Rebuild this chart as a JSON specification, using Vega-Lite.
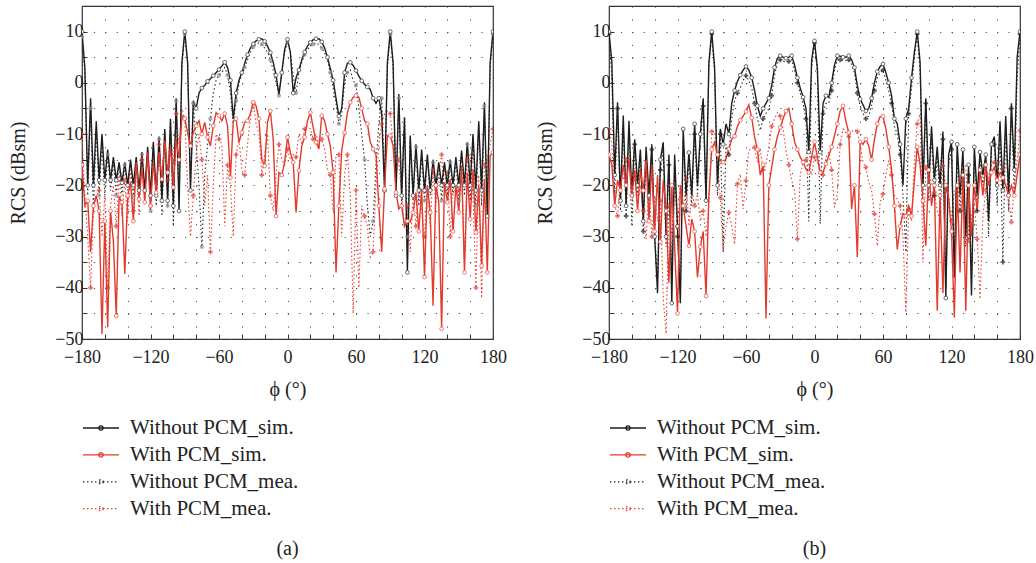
{
"$schema":"https://vega.github.io/schema/vega-lite/v6.json",
"padding":{"left":8,"top":5,"right":5,"bottom":2},
"background":"white",
"datasets":{
"a":[
{"x":-180,"ws":10,"wp":-16,"wsm":9,"wpm":-10},
{"x":-177.5,"ws":3,"wp":-24,"wsm":2,"wpm":-22},
{"x":-175,"ws":-20,"wp":-23,"wsm":-22,"wpm":-30},
{"x":-172.5,"ws":-3,"wp":-33,"wsm":-5,"wpm":-40},
{"x":-170,"ws":-20,"wp":-24,"wsm":-25,"wpm":-25},
{"x":-167.5,"ws":-7.5,"wp":-22,"wsm":-9,"wpm":-22},
{"x":-165,"ws":-19,"wp":-25,"wsm":-22,"wpm":-21},
{"x":-162.5,"ws":-10,"wp":-49,"wsm":-12,"wpm":-30},
{"x":-160,"ws":-19,"wp":-27,"wsm":-22,"wpm":-22},
{"x":-157.5,"ws":-13,"wp":-47.7,"wsm":-14,"wpm":-40},
{"x":-155,"ws":-19,"wp":-25,"wsm":-21,"wpm":-24},
{"x":-152.5,"ws":-14.5,"wp":-31,"wsm":-15.5,"wpm":-20},
{"x":-150,"ws":-19,"wp":-45.5,"wsm":-22,"wpm":-28},
{"x":-147.5,"ws":-15.5,"wp":-22.3,"wsm":-16,"wpm":-18},
{"x":-145,"ws":-19.5,"wp":-23.3,"wsm":-22,"wpm":-26},
{"x":-142.5,"ws":-15.5,"wp":-37.3,"wsm":-16,"wpm":-19},
{"x":-140,"ws":-20,"wp":-22,"wsm":-21,"wpm":-27},
{"x":-137.5,"ws":-15,"wp":-19.4,"wsm":-15.5,"wpm":-17},
{"x":-135,"ws":-20,"wp":-27,"wsm":-22,"wpm":-25},
{"x":-132.5,"ws":-14.5,"wp":-15.5,"wsm":-15,"wpm":-16},
{"x":-130,"ws":-21,"wp":-22.7,"wsm":-23,"wpm":-26},
{"x":-127.5,"ws":-13.5,"wp":-16.5,"wsm":-14,"wpm":-15},
{"x":-125,"ws":-21,"wp":-23.3,"wsm":-22,"wpm":-22},
{"x":-122.5,"ws":-12.5,"wp":-13.6,"wsm":-13,"wpm":-14},
{"x":-120,"ws":-22,"wp":-24,"wsm":-25,"wpm":-24},
{"x":-117.5,"ws":-11.5,"wp":-15.5,"wsm":-12,"wpm":-13},
{"x":-115,"ws":-22,"wp":-21.4,"wsm":-24,"wpm":-22},
{"x":-112.5,"ws":-10.5,"wp":-13.5,"wsm":-11,"wpm":-12},
{"x":-110,"ws":-23,"wp":-18.8,"wsm":-26,"wpm":-20},
{"x":-107.5,"ws":-9,"wp":-11.3,"wsm":-9.5,"wpm":-10},
{"x":-105,"ws":-23,"wp":-17.5,"wsm":-24,"wpm":-19},
{"x":-102.5,"ws":-7,"wp":-12.5,"wsm":-7.5,"wpm":-9},
{"x":-100,"ws":-24,"wp":-20.4,"wsm":-28,"wpm":-16},
{"x":-97.5,"ws":-3,"wp":-11,"wsm":-3.5,"wpm":-6},
{"x":-95,"ws":-25,"wp":-15,"wsm":-22,"wpm":-12},
{"x":-92.5,"ws":4,"wp":-6.4,"wsm":3,"wpm":-5},
{"x":-90,"ws":10,"wp":-7,"wsm":9.5,"wpm":-7},
{"x":-87.5,"ws":4,"wp":-9.7,"wsm":4,"wpm":-20},
{"x":-85,"ws":-21,"wp":-12.3,"wsm":-20,"wpm":-30},
{"x":-82.5,"ws":-3.5,"wp":-9.7,"wsm":-4,"wpm":-22},
{"x":-80,"ws":-5,"wp":-8.4,"wsm":-12,"wpm":-14},
{"x":-77.5,"ws":-2,"wp":-7.4,"wsm":-20,"wpm":-10},
{"x":-75,"ws":-1,"wp":-10,"wsm":-32,"wpm":-15},
{"x":-72.5,"ws":-0.5,"wp":-7.7,"wsm":-18,"wpm":-24},
{"x":-70,"ws":0.3,"wp":-10.6,"wsm":-12,"wpm":-18},
{"x":-67.5,"ws":0.8,"wp":-12.3,"wsm":-7,"wpm":-33},
{"x":-65,"ws":1.4,"wp":-8.4,"wsm":-2,"wpm":-20},
{"x":-62.5,"ws":2,"wp":-5.8,"wsm":0.5,"wpm":-10},
{"x":-60,"ws":2.6,"wp":-6.4,"wsm":1.5,"wpm":-11},
{"x":-57.5,"ws":3.3,"wp":-7.4,"wsm":2,"wpm":-12},
{"x":-55,"ws":4,"wp":-6,"wsm":3,"wpm":-28},
{"x":-52.5,"ws":3,"wp":-8.4,"wsm":1.5,"wpm":-16},
{"x":-50,"ws":0.5,"wp":-18.5,"wsm":-2,"wpm":-20},
{"x":-47.5,"ws":-7,"wp":-7.4,"wsm":-8,"wpm":-30},
{"x":-45,"ws":-2,"wp":-7,"wsm":-3.5,"wpm":-14},
{"x":-42.5,"ws":0.5,"wp":-11.6,"wsm":0,"wpm":-11},
{"x":-40,"ws":2,"wp":-9.7,"wsm":1.5,"wpm":-17},
{"x":-37.5,"ws":3.8,"wp":-7.7,"wsm":3,"wpm":-18},
{"x":-35,"ws":5.5,"wp":-7.4,"wsm":4.5,"wpm":-12},
{"x":-32.5,"ws":6.8,"wp":-6,"wsm":6,"wpm":-7},
{"x":-30,"ws":7.6,"wp":-3.8,"wsm":7,"wpm":-4},
{"x":-27.5,"ws":8.2,"wp":-4.5,"wsm":7.5,"wpm":-8},
{"x":-25,"ws":8.5,"wp":-7,"wsm":7.8,"wpm":-10},
{"x":-22.5,"ws":8.6,"wp":-15,"wsm":7.5,"wpm":-18},
{"x":-20,"ws":8.1,"wp":-16.2,"wsm":6.8,"wpm":-14},
{"x":-17.5,"ws":7.2,"wp":-7.7,"wsm":6,"wpm":-10},
{"x":-15,"ws":5.9,"wp":-5.5,"wsm":4.5,"wpm":-22},
{"x":-12.5,"ws":4,"wp":-11,"wsm":2.5,"wpm":-25},
{"x":-10,"ws":1.5,"wp":-26,"wsm":0,"wpm":-18},
{"x":-7.5,"ws":-2.3,"wp":-17.5,"wsm":-2.5,"wpm":-12},
{"x":-5,"ws":2,"wp":-18,"wsm":2,"wpm":-15},
{"x":-2.5,"ws":6.5,"wp":-15.5,"wsm":6,"wpm":-16},
{"x":0,"ws":8.5,"wp":-10.6,"wsm":8,"wpm":-13},
{"x":2.5,"ws":6,"wp":-13.6,"wsm":6,"wpm":-15},
{"x":5,"ws":-2,"wp":-15.5,"wsm":1.5,"wpm":-14},
{"x":7.5,"ws":1,"wp":-25.3,"wsm":-2,"wpm":-14.5},
{"x":10,"ws":2.5,"wp":-17.1,"wsm":2,"wpm":-10},
{"x":12.5,"ws":4.5,"wp":-12.3,"wsm":4,"wpm":-12},
{"x":15,"ws":6,"wp":-10.6,"wsm":5.5,"wpm":-9},
{"x":17.5,"ws":7.2,"wp":-7.4,"wsm":6.5,"wpm":-8.5},
{"x":20,"ws":7.9,"wp":-5.8,"wsm":7.2,"wpm":-9},
{"x":22.5,"ws":8.4,"wp":-8.7,"wsm":7.5,"wpm":-11},
{"x":25,"ws":8.6,"wp":-11.6,"wsm":7.8,"wpm":-10},
{"x":27.5,"ws":8.6,"wp":-12.9,"wsm":7.5,"wpm":-12},
{"x":30,"ws":8,"wp":-6.4,"wsm":6.8,"wpm":-11},
{"x":32.5,"ws":6.8,"wp":-7.4,"wsm":5.8,"wpm":-13},
{"x":35,"ws":5,"wp":-10,"wsm":4.5,"wpm":-17},
{"x":37.5,"ws":2.8,"wp":-12.3,"wsm":2,"wpm":-18},
{"x":40,"ws":0.5,"wp":-17.5,"wsm":-1,"wpm":-25},
{"x":42.5,"ws":-3,"wp":-37,"wsm":-4,"wpm":-14},
{"x":45,"ws":-6.5,"wp":-24,"wsm":-8,"wpm":-14},
{"x":47.5,"ws":-5,"wp":-13.2,"wsm":-6,"wpm":-30},
{"x":50,"ws":2,"wp":-9.7,"wsm":0,"wpm":-18},
{"x":52.5,"ws":3.8,"wp":-5.8,"wsm":2,"wpm":-14},
{"x":55,"ws":4,"wp":-3.8,"wsm":2.5,"wpm":-22},
{"x":57.5,"ws":3.4,"wp":-2.8,"wsm":0.5,"wpm":-45},
{"x":60,"ws":2.4,"wp":-2.5,"wsm":-0.5,"wpm":-21},
{"x":62.5,"ws":1.3,"wp":-2.8,"wsm":-5,"wpm":-40},
{"x":65,"ws":0.4,"wp":-5,"wsm":-10,"wpm":-24},
{"x":67.5,"ws":-0.3,"wp":-7.4,"wsm":-15,"wpm":-26},
{"x":70,"ws":-0.8,"wp":-8,"wsm":-24,"wpm":-28},
{"x":72.5,"ws":-1.3,"wp":-11.6,"wsm":-30,"wpm":-34},
{"x":75,"ws":-3,"wp":-12.9,"wsm":-27,"wpm":-33},
{"x":77.5,"ws":-4,"wp":-14,"wsm":-16,"wpm":-20},
{"x":80,"ws":-3,"wp":-24,"wsm":-8,"wpm":-12},
{"x":82.5,"ws":-6,"wp":-33,"wsm":-3,"wpm":-8},
{"x":85,"ws":-21,"wp":-20.7,"wsm":-20,"wpm":-6},
{"x":87.5,"ws":4,"wp":-10.3,"wsm":3,"wpm":-5.5},
{"x":90,"ws":10,"wp":-10.3,"wsm":9.5,"wpm":-6},
{"x":92.5,"ws":4,"wp":-12.3,"wsm":3,"wpm":-12},
{"x":95,"ws":-22,"wp":-21.4,"wsm":-21,"wpm":-18},
{"x":97.5,"ws":-2.2,"wp":-24.6,"wsm":-3,"wpm":-15},
{"x":100,"ws":-22,"wp":-24,"wsm":-24,"wpm":-22},
{"x":102.5,"ws":-6.7,"wp":-28,"wsm":-7,"wpm":-28},
{"x":105,"ws":-37,"wp":-27,"wsm":-30,"wpm":-24},
{"x":107.5,"ws":-10.3,"wp":-27.2,"wsm":-11,"wpm":-33},
{"x":110,"ws":-22,"wp":-25.3,"wsm":-23,"wpm":-22},
{"x":112.5,"ws":-12,"wp":-21.4,"wsm":-12.5,"wpm":-28},
{"x":115,"ws":-21,"wp":-29,"wsm":-24,"wpm":-20},
{"x":117.5,"ws":-13,"wp":-20.7,"wsm":-14,"wpm":-25},
{"x":120,"ws":-21,"wp":-37.9,"wsm":-23,"wpm":-30},
{"x":122.5,"ws":-14,"wp":-20,"wsm":-15,"wpm":-20},
{"x":125,"ws":-21,"wp":-25.3,"wsm":-22,"wpm":-28},
{"x":127.5,"ws":-15,"wp":-43.5,"wsm":-15.5,"wpm":-17},
{"x":130,"ws":-20,"wp":-20,"wsm":-22,"wpm":-24},
{"x":132.5,"ws":-15.5,"wp":-23.3,"wsm":-16,"wpm":-18},
{"x":135,"ws":-20,"wp":-48,"wsm":-23,"wpm":-14},
{"x":137.5,"ws":-15.5,"wp":-19.4,"wsm":-16,"wpm":-22},
{"x":140,"ws":-20,"wp":-23.3,"wsm":-22,"wpm":-17},
{"x":142.5,"ws":-15,"wp":-18.8,"wsm":-15.5,"wpm":-30},
{"x":145,"ws":-20,"wp":-29,"wsm":-22,"wpm":-19},
{"x":147.5,"ws":-14.5,"wp":-20,"wsm":-15,"wpm":-22},
{"x":150,"ws":-20,"wp":-25.3,"wsm":-23,"wpm":-21},
{"x":152.5,"ws":-13.2,"wp":-16.2,"wsm":-13.5,"wpm":-17},
{"x":155,"ws":-20,"wp":-37,"wsm":-22,"wpm":-35},
{"x":157.5,"ws":-11.6,"wp":-17.5,"wsm":-12,"wpm":-15},
{"x":160,"ws":-20,"wp":-26.6,"wsm":-23,"wpm":-14},
{"x":162.5,"ws":-10,"wp":-16.8,"wsm":-10.5,"wpm":-22},
{"x":165,"ws":-21,"wp":-29.2,"wsm":-24,"wpm":-40},
{"x":167.5,"ws":-7.5,"wp":-20,"wsm":-8,"wpm":-18},
{"x":170,"ws":-21,"wp":-35.7,"wsm":-24,"wpm":-42},
{"x":172.5,"ws":-3.8,"wp":-18.8,"wsm":-4.5,"wpm":-16},
{"x":175,"ws":-26,"wp":-37,"wsm":-25,"wpm":-15},
{"x":177.5,"ws":4,"wp":-14.2,"wsm":3,"wpm":-12},
{"x":180,"ws":10,"wp":-13.6,"wsm":9.5,"wpm":-9}
],
"b":[
{"x":-180,"ws":10,"wp":-14,"wsm":9.5,"wpm":-9},
{"x":-177.5,"ws":4,"wp":-16,"wsm":1,"wpm":-12},
{"x":-175,"ws":-18,"wp":-24,"wsm":-22,"wpm":-24},
{"x":-172.5,"ws":-3.8,"wp":-19,"wsm":-5,"wpm":-26},
{"x":-170,"ws":-23,"wp":-21,"wsm":-25,"wpm":-19},
{"x":-167.5,"ws":-6.4,"wp":-16,"wsm":-8,"wpm":-19},
{"x":-165,"ws":-24,"wp":-20,"wsm":-26,"wpm":-15},
{"x":-162.5,"ws":-7.4,"wp":-15,"wsm":-9,"wpm":-14.5},
{"x":-160,"ws":-22,"wp":-22,"wsm":-28,"wpm":-22},
{"x":-157.5,"ws":-11,"wp":-17,"wsm":-12,"wpm":-18},
{"x":-155,"ws":-20,"wp":-25,"wsm":-22,"wpm":-24},
{"x":-152.5,"ws":-13,"wp":-17,"wsm":-14,"wpm":-20},
{"x":-150,"ws":-27,"wp":-21,"wsm":-29,"wpm":-25},
{"x":-147.5,"ws":-12.5,"wp":-15,"wsm":-14,"wpm":-30.5},
{"x":-145,"ws":-22,"wp":-27,"wsm":-24,"wpm":-20},
{"x":-142.5,"ws":-12,"wp":-16,"wsm":-13,"wpm":-30},
{"x":-140,"ws":-30,"wp":-29,"wsm":-30,"wpm":-22},
{"x":-137.5,"ws":-41,"wp":-18,"wsm":-38,"wpm":-27},
{"x":-135,"ws":-15,"wp":-31,"wsm":-17,"wpm":-23},
{"x":-132.5,"ws":-11.6,"wp":-19,"wsm":-13,"wpm":-42},
{"x":-130,"ws":-30,"wp":-25,"wsm":-32,"wpm":-49},
{"x":-127.5,"ws":-14,"wp":-39,"wsm":-16,"wpm":-24},
{"x":-125,"ws":-43,"wp":-20,"wsm":-38,"wpm":-30},
{"x":-122.5,"ws":-14,"wp":-32,"wsm":-16,"wpm":-17.5},
{"x":-120,"ws":-28,"wp":-45,"wsm":-30,"wpm":-28},
{"x":-117.5,"ws":-43,"wp":-20,"wsm":-40,"wpm":-20},
{"x":-115,"ws":-9,"wp":-24,"wsm":-11,"wpm":-25},
{"x":-112.5,"ws":-22,"wp":-28,"wsm":-25,"wpm":-19},
{"x":-110,"ws":-13.6,"wp":-31.8,"wsm":-15,"wpm":-28},
{"x":-107.5,"ws":-22,"wp":-26.6,"wsm":-24,"wpm":-21},
{"x":-105,"ws":-8,"wp":-29,"wsm":-10,"wpm":-24},
{"x":-102.5,"ws":-20,"wp":-38,"wsm":-22,"wpm":-21.7},
{"x":-100,"ws":-10,"wp":-32,"wsm":-12,"wpm":-27},
{"x":-97.5,"ws":-3,"wp":-29,"wsm":-4.5,"wpm":-25},
{"x":-95,"ws":-23,"wp":-41.6,"wsm":-24,"wpm":-30},
{"x":-92.5,"ws":4,"wp":-22,"wsm":3,"wpm":-23.7},
{"x":-90,"ws":10,"wp":-13,"wsm":9.5,"wpm":-9.5},
{"x":-87.5,"ws":3,"wp":-11.6,"wsm":2,"wpm":-9.5},
{"x":-85,"ws":-20,"wp":-14,"wsm":-22,"wpm":-15},
{"x":-82.5,"ws":-9,"wp":-15.2,"wsm":-10,"wpm":-22.4},
{"x":-80,"ws":-12,"wp":-15.5,"wsm":-33,"wpm":-33},
{"x":-77.5,"ws":-8,"wp":-14.8,"wsm":-12,"wpm":-28},
{"x":-75,"ws":-10,"wp":-12.9,"wsm":-14,"wpm":-25.3},
{"x":-72.5,"ws":-4,"wp":-11,"wsm":-7,"wpm":-28},
{"x":-70,"ws":-1.5,"wp":-10.4,"wsm":-3.5,"wpm":-31.5},
{"x":-67.5,"ws":0.3,"wp":-8.5,"wsm":-2,"wpm":-19.7},
{"x":-65,"ws":1.5,"wp":-7.3,"wsm":-1,"wpm":-17.8},
{"x":-62.5,"ws":2.5,"wp":-6.5,"wsm":0.5,"wpm":-24.6},
{"x":-60,"ws":3.2,"wp":-5.6,"wsm":1.4,"wpm":-19.1},
{"x":-57.5,"ws":2.5,"wp":-4.3,"wsm":0.5,"wpm":-13.2},
{"x":-55,"ws":1,"wp":-6.8,"wsm":-1,"wpm":-12.8},
{"x":-52.5,"ws":-1.5,"wp":-10.5,"wsm":-4,"wpm":-12.6},
{"x":-50,"ws":-4.5,"wp":-13,"wsm":-7,"wpm":-15.5},
{"x":-47.5,"ws":-6.5,"wp":-18,"wsm":-9.3,"wpm":-12.8},
{"x":-45,"ws":-5,"wp":-16,"wsm":-7,"wpm":-17},
{"x":-42.5,"ws":-4,"wp":-46,"wsm":-6,"wpm":-16},
{"x":-40,"ws":-3,"wp":-20,"wsm":-5,"wpm":-12.5},
{"x":-37.5,"ws":-0.5,"wp":-16.5,"wsm":-2.5,"wpm":-8.5},
{"x":-35,"ws":3,"wp":-13,"wsm":1.5,"wpm":-7},
{"x":-32.5,"ws":4.8,"wp":-10.5,"wsm":3.8,"wpm":-5.8},
{"x":-30,"ws":5.3,"wp":-8.7,"wsm":4.5,"wpm":-6.5},
{"x":-27.5,"ws":5,"wp":-7,"wsm":4.3,"wpm":-9},
{"x":-25,"ws":4.8,"wp":-5.5,"wsm":4,"wpm":-13.2},
{"x":-22.5,"ws":5,"wp":-5,"wsm":4.2,"wpm":-16},
{"x":-20,"ws":5.3,"wp":-8,"wsm":4.5,"wpm":-19},
{"x":-17.5,"ws":3.5,"wp":-11.5,"wsm":2.5,"wpm":-21},
{"x":-15,"ws":1,"wp":-13,"wsm":0,"wpm":-30.5},
{"x":-12.5,"ws":-1,"wp":-14.5,"wsm":-2,"wpm":-18},
{"x":-10,"ws":-2.8,"wp":-15.5,"wsm":-4,"wpm":-15.5},
{"x":-7.5,"ws":-5,"wp":-16.8,"wsm":-7,"wpm":-15},
{"x":-5,"ws":-13.5,"wp":-17.5,"wsm":-27,"wpm":-16},
{"x":-2.5,"ws":4.5,"wp":-14.5,"wsm":3,"wpm":-18},
{"x":0,"ws":8.2,"wp":-11.5,"wsm":7.8,"wpm":-14.5},
{"x":2.5,"ws":3,"wp":-14.5,"wsm":2,"wpm":-15.5},
{"x":5,"ws":-13.5,"wp":-17.5,"wsm":-27.5,"wpm":-17},
{"x":7.5,"ws":-4,"wp":-17.5,"wsm":-6,"wpm":-18},
{"x":10,"ws":-2.5,"wp":-15.8,"wsm":-4,"wpm":-14.5},
{"x":12.5,"ws":-2.8,"wp":-14.2,"wsm":-4,"wpm":-13.5},
{"x":15,"ws":0,"wp":-12.5,"wsm":-1.5,"wpm":-17},
{"x":17.5,"ws":3.5,"wp":-10.3,"wsm":2.5,"wpm":-24.3},
{"x":20,"ws":5.3,"wp":-8,"wsm":4.5,"wpm":-21.7},
{"x":22.5,"ws":5.2,"wp":-5.5,"wsm":4.5,"wpm":-12},
{"x":25,"ws":5,"wp":-4.5,"wsm":4.3,"wpm":-9},
{"x":27.5,"ws":5,"wp":-7.5,"wsm":4.3,"wpm":-9.7},
{"x":30,"ws":5.3,"wp":-9.7,"wsm":4.5,"wpm":-10.5},
{"x":32.5,"ws":4.5,"wp":-24.6,"wsm":3.5,"wpm":-9.5},
{"x":35,"ws":3,"wp":-20,"wsm":2,"wpm":-9.1},
{"x":37.5,"ws":-0.5,"wp":-34,"wsm":-2,"wpm":-9.5},
{"x":40,"ws":-3.2,"wp":-11.5,"wsm":-4.5,"wpm":-12},
{"x":42.5,"ws":-4.3,"wp":-12,"wsm":-6,"wpm":-15.5},
{"x":45,"ws":-5.5,"wp":-11,"wsm":-7,"wpm":-16.5},
{"x":47.5,"ws":-5,"wp":-12.3,"wsm":-6.5,"wpm":-19.4},
{"x":50,"ws":-3,"wp":-15,"wsm":-4.5,"wpm":-21},
{"x":52.5,"ws":0,"wp":-11,"wsm":-1.5,"wpm":-25.6},
{"x":55,"ws":2.2,"wp":-8,"wsm":1,"wpm":-31.8},
{"x":57.5,"ws":3.2,"wp":-6.6,"wsm":2,"wpm":-23.3},
{"x":60,"ws":3.7,"wp":-6.5,"wsm":2.5,"wpm":-21.7},
{"x":62.5,"ws":2,"wp":-9,"wsm":0.5,"wpm":-18},
{"x":65,"ws":0,"wp":-12.5,"wsm":-1.5,"wpm":-15.2},
{"x":67.5,"ws":-2.5,"wp":-17,"wsm":-4,"wpm":-18},
{"x":70,"ws":-7,"wp":-24,"wsm":-8.5,"wpm":-22},
{"x":72.5,"ws":-8,"wp":-32.5,"wsm":-10,"wpm":-22.7},
{"x":75,"ws":-12,"wp":-28,"wsm":-14,"wpm":-24},
{"x":77.5,"ws":-20,"wp":-25.5,"wsm":-22,"wpm":-30},
{"x":80,"ws":-7,"wp":-26,"wsm":-33,"wpm":-44.8},
{"x":82.5,"ws":-5,"wp":-24,"wsm":-6,"wpm":-24.6},
{"x":85,"ws":1,"wp":-26,"wsm":-1,"wpm":-27},
{"x":87.5,"ws":6,"wp":-19,"wsm":5,"wpm":-15},
{"x":90,"ws":10,"wp":-12.5,"wsm":9.5,"wpm":-8},
{"x":92.5,"ws":4,"wp":-16,"wsm":2,"wpm":-6},
{"x":95,"ws":-20,"wp":-23,"wsm":-22,"wpm":-35},
{"x":97.5,"ws":-3,"wp":-31.8,"wsm":-4,"wpm":-16.5},
{"x":100,"ws":-20,"wp":-17,"wsm":-23,"wpm":-18},
{"x":102.5,"ws":-8.5,"wp":-24,"wsm":-10,"wpm":-19.4},
{"x":105,"ws":-19,"wp":-20,"wsm":-22,"wpm":-21.4},
{"x":107.5,"ws":-12.5,"wp":-44.5,"wsm":-14,"wpm":-25},
{"x":110,"ws":-20,"wp":-22,"wsm":-24,"wpm":-27},
{"x":112.5,"ws":-9.5,"wp":-41,"wsm":-11,"wpm":-16.2},
{"x":115,"ws":-42,"wp":-20,"wsm":-40,"wpm":-20},
{"x":117.5,"ws":-14,"wp":-22.5,"wsm":-16,"wpm":-22},
{"x":120,"ws":-11.5,"wp":-29,"wsm":-13,"wpm":-27},
{"x":122.5,"ws":-38,"wp":-45.8,"wsm":-35,"wpm":-21},
{"x":125,"ws":-12,"wp":-20,"wsm":-14,"wpm":-23},
{"x":127.5,"ws":-22,"wp":-37,"wsm":-25,"wpm":-19},
{"x":130,"ws":-13,"wp":-18,"wsm":-15,"wpm":-17},
{"x":132.5,"ws":-30,"wp":-44.5,"wsm":-32,"wpm":-16.2},
{"x":135,"ws":-16,"wp":-20,"wsm":-18,"wpm":-30.8},
{"x":137.5,"ws":-41.5,"wp":-30,"wsm":-40,"wpm":-26},
{"x":140,"ws":-12.5,"wp":-20,"wsm":-14,"wpm":-23.3},
{"x":142.5,"ws":-22,"wp":-25,"wsm":-25,"wpm":-30.5},
{"x":145,"ws":-13.5,"wp":-17,"wsm":-15,"wpm":-42.2},
{"x":147.5,"ws":-18,"wp":-22,"wsm":-20,"wpm":-26},
{"x":150,"ws":-14,"wp":-16,"wsm":-16,"wpm":-21},
{"x":152.5,"ws":-27,"wp":-20,"wsm":-30,"wpm":-18},
{"x":155,"ws":-12,"wp":-17.5,"wsm":-13,"wpm":-16},
{"x":157.5,"ws":-10.5,"wp":-16.5,"wsm":-12,"wpm":-15.5},
{"x":160,"ws":-20,"wp":-19,"wsm":-24,"wpm":-16},
{"x":162.5,"ws":-7.5,"wp":-17.5,"wsm":-9,"wpm":-15.5},
{"x":165,"ws":-21,"wp":-18.5,"wsm":-35,"wpm":-16.8},
{"x":167.5,"ws":-6.5,"wp":-20,"wsm":-8,"wpm":-20},
{"x":170,"ws":-22,"wp":-22,"wsm":-25,"wpm":-22},
{"x":172.5,"ws":-4,"wp":-20,"wsm":-5,"wpm":-27.2},
{"x":175,"ws":-17,"wp":-22,"wsm":-22,"wpm":-20},
{"x":177.5,"ws":5,"wp":-18,"wsm":1,"wpm":-15},
{"x":180,"ws":10,"wp":-14,"wsm":9.5,"wpm":-9.3}
]
},
"hconcat":[
{
"width":411,"height":333,
"data":{"name":"a"},
"title":{"text":"(a)"},
"transform":[{"fold":["ws","wp","wsm","wpm"],"as":["s","v"]}],
"encoding":{
"x":{"field":"x","type":"quantitative","scale":{"domain":[-180,180],"nice":false,"zero":false},"axis":{"title":"ϕ (°)","values":[-180,-160,-140,-120,-100,-80,-60,-40,-20,0,20,40,60,80,100,120,140,160,180],"labelExpr":"datum.value % 60 === 0 ? datum.label : ''","gridDash":[1.2,11.6]}},
"y":{"field":"v","type":"quantitative","scale":{"domain":[-50,15],"nice":false,"zero":false},"axis":{"title":"RCS (dBsm)","values":[-50,-45,-40,-35,-30,-25,-20,-15,-10,-5,0,5,10],"labelExpr":"datum.value % 10 === 0 ? datum.label : ''","gridDash":[1.2,10.2]}}
},
"layer":[
{"transform":[{"filter":"datum.s=='wsm'||datum.s=='wpm'"}],
"mark":{"type":"line","strokeWidth":1.1,"clip":true},
"encoding":{
"color":{"field":"s","type":"nominal","scale":{"domain":["ws","wp","wsm","wpm"],"range":["#1e1e1e","#e33a2d","#2a2a2a","#ee3b2f"]},"legend":{"orient":"none","legendX":0,"legendY":410,"direction":"vertical","title":null,"labelExpr":"datum.label=='ws'?'Without PCM_sim.':datum.label=='wp'?'With PCM_sim.':datum.label=='wsm'?'Without PCM_mea.':'With PCM_mea.'","symbolType":"M-1,0L1,0M0.12,0A0.12,0.12,0,1,1,-0.12,0A0.12,0.12,0,1,1,0.12,0","symbolSize":1300,"symbolStrokeWidth":1.3,"labelFont":"Liberation Serif","labelFontSize":21,"labelColor":"#222","labelLimit":400,"clipHeight":24,"rowPadding":2.9,"labelOffset":10}},
"strokeDash":{"field":"s","type":"nominal","scale":{"domain":["ws","wp","wsm","wpm"],"range":[[1,0],[1,0],[1.5,2.5],[1.5,2.5]]}}
}},
{"transform":[{"filter":"datum.s=='ws'||datum.s=='wp'"}],
"mark":{"type":"line","strokeWidth":1.4,"clip":true},
"encoding":{
"color":{"field":"s","type":"nominal"},
"strokeDash":{"field":"s","type":"nominal"}
}},
{"transform":[{"filter":"datum.s=='wsm' && datum.x % 7.5 == 0"}],
"mark":{"type":"point","shape":"circle","filled":true,"color":"#8a8a8a","size":18,"clip":true},
"encoding":{}},
{"transform":[{"filter":"datum.s=='wpm' && datum.x % 7.5 == 0"}],
"mark":{"type":"point","shape":"cross","filled":true,"color":"#e33a2d","size":22,"clip":true},
"encoding":{}},
{"transform":[{"filter":"(datum.s=='ws'||datum.s=='wp') && datum.x % 5 == 0"}],
"mark":{"type":"point","shape":"circle","filled":false,"fill":"white","fillOpacity":1,"size":14,"strokeWidth":0.8,"clip":true},
"encoding":{"stroke":{"field":"s","type":"nominal","scale":{"domain":["ws","wp"],"range":["#444444","#e8584c"]},"legend":null}}}
]
},
{
"width":411,"height":333,
"data":{"name":"b"},
"title":{"text":"(b)"},
"transform":[{"fold":["ws","wp","wsm","wpm"],"as":["s","v"]}],
"encoding":{
"x":{"field":"x","type":"quantitative","scale":{"domain":[-180,180],"nice":false,"zero":false},"axis":{"title":"ϕ (°)","values":[-180,-160,-140,-120,-100,-80,-60,-40,-20,0,20,40,60,80,100,120,140,160,180],"labelExpr":"datum.value % 60 === 0 ? datum.label : ''","gridDash":[1.2,11.6]}},
"y":{"field":"v","type":"quantitative","scale":{"domain":[-50,15],"nice":false,"zero":false},"axis":{"title":"RCS (dBsm)","values":[-50,-45,-40,-35,-30,-25,-20,-15,-10,-5,0,5,10],"labelExpr":"datum.value % 10 === 0 ? datum.label : ''","gridDash":[1.2,10.2]}}
},
"layer":[
{"transform":[{"filter":"datum.s=='wsm'||datum.s=='wpm'"}],
"mark":{"type":"line","strokeWidth":1.1,"clip":true},
"encoding":{
"color":{"field":"s","type":"nominal","scale":{"domain":["ws","wp","wsm","wpm"],"range":["#1e1e1e","#e33a2d","#2a2a2a","#ee3b2f"]},"legend":{"orient":"none","legendX":0,"legendY":410,"direction":"vertical","title":null,"labelExpr":"datum.label=='ws'?'Without PCM_sim.':datum.label=='wp'?'With PCM_sim.':datum.label=='wsm'?'Without PCM_mea.':'With PCM_mea.'","symbolType":"M-1,0L1,0M0.12,0A0.12,0.12,0,1,1,-0.12,0A0.12,0.12,0,1,1,0.12,0","symbolSize":1300,"symbolStrokeWidth":1.3,"labelFont":"Liberation Serif","labelFontSize":21,"labelColor":"#222","labelLimit":400,"clipHeight":24,"rowPadding":2.9,"labelOffset":10}},
"strokeDash":{"field":"s","type":"nominal","scale":{"domain":["ws","wp","wsm","wpm"],"range":[[1,0],[1,0],[1.5,2.5],[1.5,2.5]]}}
}},
{"transform":[{"filter":"datum.s=='ws'||datum.s=='wp'"}],
"mark":{"type":"line","strokeWidth":1.4,"clip":true},
"encoding":{
"color":{"field":"s","type":"nominal"},
"strokeDash":{"field":"s","type":"nominal"}
}},
{"transform":[{"filter":"datum.s=='wsm' && datum.x % 7.5 == 0"}],
"mark":{"type":"point","shape":"cross","filled":true,"color":"#1e1e1e","size":22,"clip":true},
"encoding":{}},
{"transform":[{"filter":"datum.s=='wpm' && datum.x % 7.5 == 0"}],
"mark":{"type":"point","shape":"cross","filled":true,"color":"#e33a2d","size":22,"clip":true},
"encoding":{}},
{"transform":[{"filter":"(datum.s=='ws'||datum.s=='wp') && datum.x % 5 == 0"}],
"mark":{"type":"point","shape":"circle","filled":false,"fill":"white","fillOpacity":1,"size":14,"strokeWidth":0.8,"clip":true},
"encoding":{"stroke":{"field":"s","type":"nominal","scale":{"domain":["ws","wp"],"range":["#444444","#e8584c"]},"legend":null}}}
]
}
],
"spacing":116,
"bounds":"flush",
"resolve":{"scale":{"color":"independent","strokeDash":"independent","stroke":"independent"},"legend":{"color":"independent","strokeDash":"independent"}},
"config":{
"view":{"stroke":"#333","strokeWidth":1.2},
"font":"Liberation Serif",
"title":{"orient":"bottom","anchor":"middle","font":"Liberation Serif","fontSize":20,"fontWeight":"normal","color":"#222","offset":18},
"axis":{"labelFont":"Liberation Serif","labelFontSize":18,"labelColor":"#222","titleFont":"Liberation Serif","titleFontSize":20,"titleFontWeight":"normal","titleColor":"#222","domain":false,"tickColor":"#333","tickSize":-5,"grid":true,"gridColor":"#555","gridWidth":1,"labelFlush":false,"labelOverlap":false},
"axisX":{"titlePadding":13,"labelPadding":14},
"axisY":{"titlePadding":26,"labelPadding":4}
}
}
